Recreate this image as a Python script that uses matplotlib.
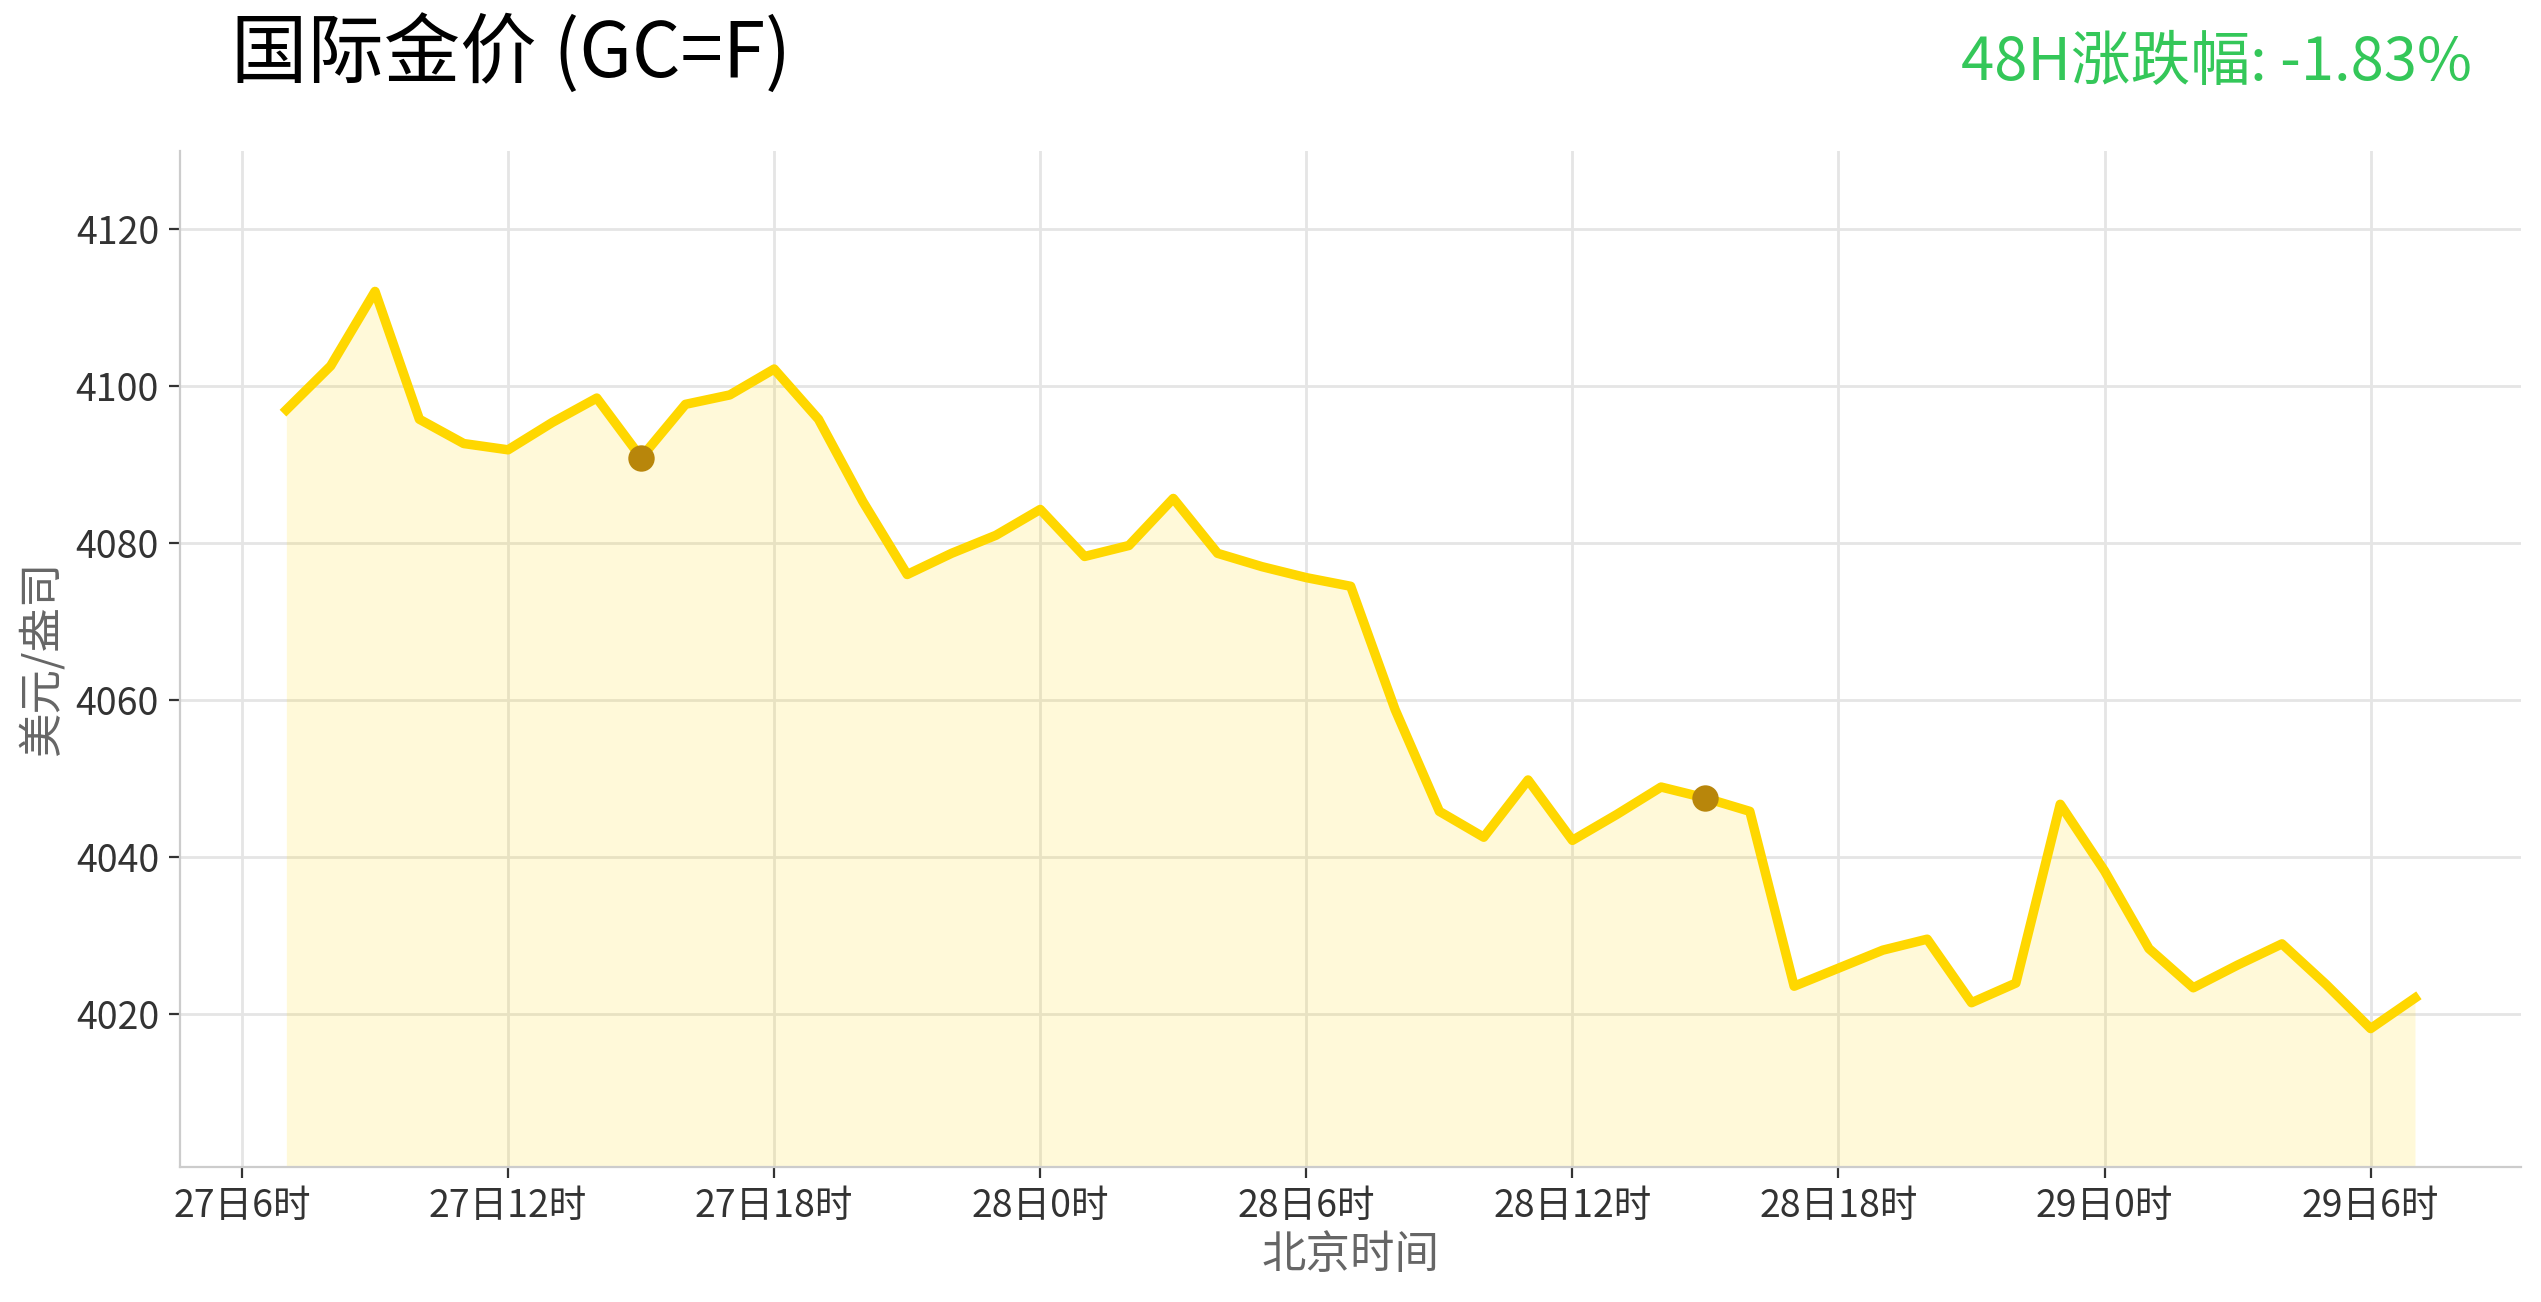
import numpy as np
import matplotlib.pyplot as plt
import pandas as pd

plt.rcParams['font.family'] = ['Noto Sans CJK SC', 'DejaVu Sans']

# hourly prices, 27th 7:00 -> 29th 7:00 (Beijing time)
times = pd.date_range('2025-11-27 07:00', periods=49, freq='h')
prices = [
    4097.0, 4102.6, 4112.1, 4095.8, 4092.7, 4091.9, 4095.4, 4098.5, 4090.9, 4097.7,
    4098.9, 4102.2, 4095.8, 4085.3, 4076.0, 4078.7, 4081.0, 4084.3, 4078.3, 4079.7,
    4085.7, 4078.7, 4077.0, 4075.6, 4074.5, 4058.8, 4045.8, 4042.5, 4049.8, 4042.1,
    4045.4, 4048.9, 4047.5, 4045.8, 4023.5, 4025.8, 4028.1, 4029.5, 4021.4, 4023.9,
    4046.7, 4038.2, 4028.3, 4023.3, 4026.2, 4028.9, 4023.7, 4018.1, 4022.0,
]
marker_idx = [8, 32]
y_lim = (4000.5, 4130.0)
y_ticks = [4020, 4040, 4060, 4080, 4100, 4120]
x_ticks = pd.date_range('2025-11-27 06:00', periods=9, freq='6h')
x_labels = ['27日6时', '27日12时', '27日18时', '28日0时', '28日6时',
            '28日12时', '28日18时', '29日0时', '29日6时']

title = '国际金价 (GC=F)'
change_pct = (prices[-1] - prices[0]) / prices[0] * 100

fig = plt.figure(figsize=(12.705, 6.51), dpi=200)
ax = fig.add_axes([0.0708, 0.104, 0.9215, 0.780])

ax.fill_between(times, prices, y_lim[0], color='#FFD700', alpha=0.15, linewidth=0)
ax.plot(times, prices, color='#FFD700', lw=3.4, zorder=3)
ax.plot(times[marker_idx], [prices[i] for i in marker_idx], 'o',
        color='#B8860B', ms=8.5, zorder=4)

ax.set_ylim(*y_lim)
ax.margins(x=0.05)
ax.set_yticks(y_ticks)
ax.set_xticks(x_ticks)
ax.set_xticklabels(x_labels)
ax.tick_params(labelsize=13.5, colors='#333333', length=4)

ax.grid(True, color='#e5e5e5', lw=1)
ax.set_axisbelow(True)
for s in ['top', 'right']:
    ax.spines[s].set_visible(False)
for s in ['left', 'bottom']:
    ax.spines[s].set_color('#cccccc')

ax.set_xlabel('北京时间', fontsize=16, color='#666666', labelpad=2)
ax.set_ylabel('美元/盎司', fontsize=16, color='#666666', labelpad=4)

fig.text(0.091, 0.958, title, fontsize=27.5, ha='left', va='center', color='black')
fig.text(0.973, 0.951, f'48H涨跌幅: {change_pct:.2f}%', fontsize=21.5,
         ha='right', va='center', color='#34C759')

fig.savefig('out.png', dpi=200)
